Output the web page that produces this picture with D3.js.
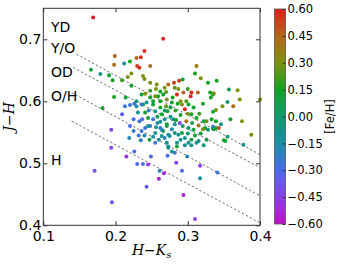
<!DOCTYPE html>
<meta charset="utf-8">
<head>
<style>
body { margin: 0; background: #fff; }
svg { font-family: "DejaVu Sans", sans-serif; }
.dots circle { stroke: none; }
.guides line { stroke: #444; stroke-width: 0.8; stroke-dasharray: 2.2,2.2; }
.axis path { display: none; }
.axis line { stroke: #333; }
.axis text { font-size: 14px; fill: #000; font-family: "DejaVu Sans", sans-serif; }
.cbar text { font-size: 11.5px; }
</style>
</head>
<body>
<svg></svg>
<script src="https://d3js.org/d3.v7.min.js"></script>
<script>
// H-Ks colour, J-H colour and [Fe/H] of each star
var hk = [
  0.169,0.266,0.240,0.199,0.235,0.229,0.198,0.230,0.233,0.248,
  0.212,0.220,0.166,0.179,0.191,0.196,0.209,0.217,0.222,0.238,
  0.240,0.222,0.198,0.214,0.182,0.213,0.220,0.226,0.209,0.225,
  0.194,0.194,0.171,0.195,0.215,0.226,0.230,0.238,0.245,0.249,
  0.261,0.267,0.260,0.243,0.219,0.235,0.247,0.255,0.264,0.273,
  0.225,0.236,0.241,0.248,0.233,0.237,0.231,0.241,0.245,0.252,
  0.258,0.262,0.266,0.229,0.236,0.241,0.248,0.255,0.262,0.268,
  0.273,0.248,0.257,0.238,0.252,0.262,0.270,0.272,0.255,0.264,
  0.268,0.268,0.281,0.288,0.293,0.312,0.310,0.318,0.328,0.314,
  0.304,0.305,0.294,0.321,0.335,0.308,0.296,0.290,0.286,0.326,
  0.324,0.321,0.315,0.333,0.328,0.335,0.308,0.301,0.289,0.298,
  0.280,0.271,0.275,0.287,0.296,0.305,0.315,0.322,0.305,0.296,
  0.285,0.273,0.282,0.272,0.299,0.284,0.317,0.292,0.317,0.294,
  0.310,0.341,0.340,0.357,0.369,0.336,0.400,0.332,0.355,0.348,
  0.363,0.339,0.335,0.359,0.375,0.339,0.388,0.346,0.335,0.339,
  0.343,0.336,0.350,0.352,0.355,0.377,0.229,0.236,0.243,0.252,
  0.259,0.266,0.271,0.278,0.285,0.292,0.301,0.305,0.312,0.331,
  0.372,0.326,0.312,0.301,0.282,0.271,0.264,0.273,0.282,0.292,
  0.255,0.245,0.220,0.278,0.271,0.285,0.262,0.276,0.283,0.290,
  0.298,0.279,0.287,0.300,0.268,0.258,0.276,0.284,0.293,0.300,
  0.310,0.318,0.252,0.260,0.290,0.278,0.246,0.262,0.270,0.248,
  0.256,0.282,0.306,0.316,0.322,0.256,0.240,0.232,0.300
];
var jh = [
  0.735,0.701,0.681,0.673,0.671,0.670,0.659,0.657,0.654,0.657,
  0.661,0.664,0.651,0.644,0.642,0.634,0.634,0.639,0.645,0.641,
  0.636,0.625,0.607,0.606,0.589,0.592,0.594,0.596,0.579,0.571,
  0.554,0.525,0.488,0.437,0.511,0.519,0.499,0.499,0.498,0.511,
  0.488,0.484,0.475,0.462,0.541,0.537,0.538,0.533,0.544,0.527,
  0.552,0.552,0.557,0.560,0.568,0.571,0.582,0.582,0.573,0.571,
  0.565,0.557,0.552,0.600,0.611,0.612,0.606,0.608,0.616,0.622,
  0.627,0.630,0.627,0.595,0.595,0.590,0.592,0.584,0.584,0.579,
  0.571,0.541,0.630,0.633,0.635,0.657,0.645,0.637,0.630,0.614,
  0.608,0.614,0.614,0.596,0.611,0.590,0.587,0.600,0.596,0.568,
  0.557,0.555,0.561,0.571,0.554,0.556,0.554,0.557,0.565,0.568,
  0.571,0.563,0.544,0.546,0.541,0.538,0.536,0.529,0.529,0.529,
  0.527,0.525,0.517,0.512,0.511,0.501,0.496,0.488,0.476,0.449,
  0.410,0.485,0.633,0.619,0.618,0.613,0.603,0.606,0.599,0.592,
  0.592,0.586,0.583,0.571,0.568,0.568,0.546,0.563,0.559,0.557,
  0.557,0.555,0.537,0.536,0.543,0.530,0.592,0.595,0.598,0.600,
  0.608,0.611,0.603,0.598,0.611,0.595,0.595,0.579,0.573,0.614,
  0.603,0.538,0.533,0.533,0.563,0.560,0.554,0.546,0.549,0.549,
  0.549,0.560,0.560,0.519,0.533,0.533,0.600,0.590,0.585,0.578,
  0.600,0.606,0.620,0.620,0.585,0.575,0.575,0.570,0.560,0.548,
  0.545,0.548,0.543,0.538,0.538,0.555,0.585,0.567,0.615,0.617,
  0.620,0.622,0.565,0.580,0.568,0.558,0.545,0.545,0.580
];
var feh = [
  0.60,0.58,0.55,0.45,0.55,0.45,0.42,0.55,0.55,0.42,
  -0.10,0.15,0.10,-0.05,0.12,0.15,0.20,0.30,0.30,0.30,
  0.28,0.12,0.15,0.12,0.15,-0.25,-0.25,-0.25,-0.35,-0.30,
  -0.45,-0.45,-0.40,-0.40,-0.50,-0.30,-0.30,-0.30,-0.45,-0.30,
  -0.20,-0.55,-0.55,-0.35,-0.20,-0.20,0.10,-0.25,-0.10,-0.10,
  -0.25,-0.25,-0.25,-0.25,-0.25,-0.30,-0.10,0.10,0.10,-0.25,
  -0.10,-0.25,0.10,-0.05,0.10,0.30,0.15,0.30,0.15,0.30,
  0.45,0.30,0.30,0.15,0.12,0.12,0.25,0.15,-0.05,0.12,
  -0.10,-0.20,0.55,0.55,0.15,0.40,0.15,0.30,0.15,0.45,
  0.58,0.58,0.45,0.12,0.15,0.12,0.58,0.30,0.15,0.30,
  0.15,0.30,0.42,0.15,-0.05,-0.10,0.12,-0.05,-0.45,0.40,
  -0.10,0.10,-0.10,-0.10,-0.10,0.10,-0.10,-0.05,-0.10,-0.10,
  0.10,-0.10,-0.25,-0.30,-0.20,-0.45,-0.45,-0.30,-0.10,-0.55,
  -0.45,-0.25,0.15,0.05,0.30,0.30,0.30,0.15,0.00,0.30,
  0.45,0.30,0.12,0.15,0.30,0.15,0.30,-0.05,-0.25,0.10,
  0.50,0.12,0.15,0.12,-0.05,-0.10,-0.15,-0.25,-0.10,0.10,
  0.15,0.12,0.30,0.12,0.58,0.30,0.12,0.15,0.15,0.15,
  0.30,0.10,-0.10,-0.10,-0.10,0.10,-0.20,-0.10,-0.05,0.10,
  -0.10,-0.10,-0.30,-0.10,-0.10,-0.10,0.15,0.10,0.20,0.12,
  0.25,0.15,0.30,0.20,0.00,0.05,-0.05,0.15,0.05,0.00,
  0.12,0.10,-0.15,-0.15,-0.10,-0.15,-0.20,-0.15,0.25,0.20,
  0.30,0.25,0.05,0.20,0.12,-0.10,-0.20,-0.25,0.30
];

// dashed dividing lines (start point and end point in data units)
var guideX0 = [0.146, 0.1415, 0.1393, 0.1393];
var guideY0 = [0.676, 0.6545, 0.614, 0.568];
var guideX1 = [0.4, 0.4, 0.4, 0.4];
var guideY1 = [0.514, 0.493, 0.4475, 0.404];

var regionNames = ["YD", "Y/O", "OD", "O/H", "H"];
var regionJH = [0.711, 0.6785, 0.640, 0.600, 0.4975];

var xTicks = [0.1, 0.2, 0.3, 0.4];
var yTicks = [0.4, 0.5, 0.6, 0.7];
var cTicks = [-0.60, -0.45, -0.30, -0.15, 0.00, 0.15, 0.30, 0.45, 0.60];

// colour map stops
var cStops = [-0.60, -0.45, -0.30, -0.15, 0.00, 0.15, 0.30, 0.45, 0.60];
var cColors = ["#c20ec4", "#8a40ea", "#4a6aee", "#1c8ea2", "#0e9a6c", "#12a224", "#7c9210", "#b4661a", "#de1e1e"];

(function () {
var W = 340, H = 264;
var pL = 43.3, pR = 260, pT = 8.3, pB = 225.3;

var svg = d3.select('svg').attr('width', W).attr('height', H);

var x = d3.scaleLinear().domain([0.1, 0.4]).range([pL, pR]);
var y = d3.scaleLinear().domain([0.4, 0.75]).range([pB, pT]);
var color = d3.scaleLinear().domain(cStops).range(cColors);

// guide lines
svg.append('g').attr('class', 'guides')
  .selectAll('line')
  .data(guideX0)
  .enter().append('line')
  .attr('x1', function (d) { return x(d); })
  .attr('y1', function (d, i) { return y(guideY0[i]); })
  .attr('x2', function (d, i) { return x(guideX1[i]); })
  .attr('y2', function (d, i) { return y(guideY1[i]); });

// stars
var stars = hk.map(function (d, i) { return {hk: d, jh: jh[i], feh: feh[i]}; });
svg.append('g').attr('class', 'dots')
  .selectAll('circle')
  .data(stars)
  .enter().append('circle')
  .attr('cx', function (d) { return x(d.hk); })
  .attr('cy', function (d) { return y(d.jh); })
  .attr('r', 2)
  .attr('fill', function (d) { return color(d.feh); });

// region labels
svg.append('g').selectAll('text')
  .data(regionNames)
  .enter().append('text')
  .attr('x', 51)
  .attr('y', function (d, i) { return y(regionJH[i]); })
  .attr('font-size', 14)
  .text(function (d) { return d; });

// axes, ticks pointing inward
svg.append('g').attr('class', 'axis')
  .attr('transform', 'translate(0,' + pB + ')')
  .call(d3.axisBottom(x).tickValues(xTicks).tickSize(-4).tickPadding(6).tickFormat(d3.format('.1f')));
svg.append('g').attr('class', 'axis')
  .attr('transform', 'translate(0,' + pT + ')')
  .call(d3.axisTop(x).tickValues(xTicks).tickSize(-4).tickFormat(''));
svg.append('g').attr('class', 'axis')
  .attr('transform', 'translate(' + pL + ',0)')
  .call(d3.axisLeft(y).tickValues(yTicks).tickSize(-4).tickPadding(2).tickFormat(d3.format('.1f')));
svg.append('g').attr('class', 'axis')
  .attr('transform', 'translate(' + pR + ',0)')
  .call(d3.axisRight(y).tickValues(yTicks).tickSize(-4).tickFormat(''));

svg.append('rect')
  .attr('x', pL).attr('y', pT)
  .attr('width', pR - pL).attr('height', pB - pT)
  .attr('fill', 'none').attr('stroke', '#333').attr('stroke-width', 1);

// axis titles
svg.append('text')
  .attr('transform', 'translate(14,' + ((pT + pB) / 2) + ') rotate(-90)')
  .attr('text-anchor', 'middle')
  .attr('font-family', 'DejaVu Serif')
  .attr('font-style', 'italic')
  .attr('font-size', 14)
  .text('J\u2212H');

var xt = svg.append('text')
  .attr('x', (pL + pR) / 2)
  .attr('y', 255)
  .attr('text-anchor', 'middle')
  .attr('font-family', 'DejaVu Serif')
  .attr('font-style', 'italic')
  .attr('font-size', 14);
xt.append('tspan').text('H\u2212K');
xt.append('tspan').attr('font-size', 10).attr('dy', 3).text('s');

// colour bar
var cbX = 274.5, cbW = 11, cbTop = 9, cbBottom = 224;
var c = d3.scaleLinear().domain([-0.6, 0.6]).range([cbBottom, cbTop]);

var grad = svg.append('defs').append('linearGradient')
  .attr('id', 'cgrad')
  .attr('x1', 0).attr('y1', 1).attr('x2', 0).attr('y2', 0);
grad.selectAll('stop')
  .data(cStops)
  .enter().append('stop')
  .attr('offset', function (d) { return (d + 0.6) / 1.2; })
  .attr('stop-color', function (d) { return color(d); });

svg.append('rect')
  .attr('x', cbX).attr('y', cbTop)
  .attr('width', cbW).attr('height', cbBottom - cbTop)
  .attr('fill', 'url(#cgrad)')
  .attr('stroke', '#555').attr('stroke-width', 0.8);

svg.append('g').attr('class', 'axis cbar')
  .attr('transform', 'translate(' + (cbX + cbW) + ',0)')
  .call(d3.axisRight(c).tickValues(cTicks).tickSize(-3).tickPadding(2)
    .tickFormat(function (d) { return d3.format('.2f')(d).replace('-', '\u2212'); }));

svg.append('text')
  .attr('transform', 'translate(334,' + ((cbTop + cbBottom) / 2) + ') rotate(-90)')
  .attr('text-anchor', 'middle')
  .attr('font-size', 11.5)
  .text('[Fe/H]');
})();
</script>
</body>
</html>
